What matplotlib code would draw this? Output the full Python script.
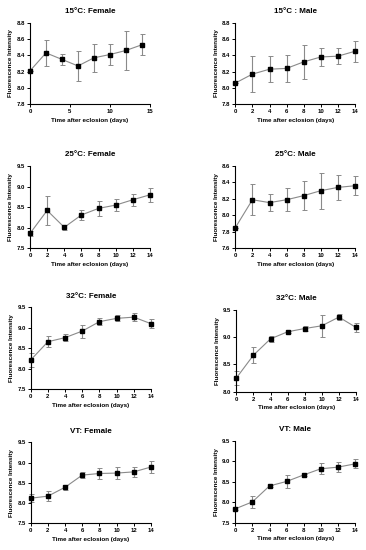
import matplotlib
matplotlib.use("Agg")
import matplotlib.pyplot as plt
import numpy as np

plt.rcParams["font.family"] = ["Liberation Sans", "DejaVu Sans"]
plt.rcParams["font.weight"] = "bold"

days = [0, 2, 4, 6, 8, 10, 12, 14]

titles = ["15°C: Female", "15°C : Male", "25°C: Female", "25°C: Male",
          "32°C: Female", "32°C: Male", "VT: Female", "VT: Male"]

f15_mean = [8.21, 8.43, 8.35, 8.27, 8.37, 8.41, 8.46, 8.53]
f15_err = [0.0, 0.16, 0.07, 0.18, 0.17, 0.13, 0.235, 0.13]
m15_mean = [8.06, 8.17, 8.23, 8.24, 8.32, 8.38, 8.39, 8.45]
m15_err = [0.0, 0.22, 0.16, 0.17, 0.21, 0.11, 0.10, 0.13]
f25_mean = [7.86, 8.42, 8.01, 8.31, 8.47, 8.55, 8.68, 8.80]
f25_err = [0.07, 0.35, 0.06, 0.13, 0.18, 0.14, 0.14, 0.17]
m25_mean = [7.85, 8.19, 8.155, 8.19, 8.24, 8.30, 8.34, 8.36]
m25_err = [0.0, 0.19, 0.10, 0.14, 0.18, 0.22, 0.15, 0.115]
f32_mean = [8.215, 8.66, 8.76, 8.92, 9.15, 9.23, 9.26, 9.10]
f32_err = [0.17, 0.14, 0.08, 0.16, 0.09, 0.07, 0.09, 0.11]
m32_mean = [8.25, 8.67, 8.97, 9.10, 9.16, 9.21, 9.37, 9.18]
m32_err = [0.13, 0.145, 0.055, 0.02, 0.04, 0.205, 0.05, 0.075]
fvt_mean = [8.12, 8.17, 8.39, 8.69, 8.73, 8.74, 8.77, 8.89]
fvt_err = [0.10, 0.13, 0.06, 0.07, 0.13, 0.14, 0.12, 0.14]
mvt_mean = [7.84, 8.01, 8.40, 8.51, 8.67, 8.82, 8.86, 8.94]
mvt_err = [0.04, 0.15, 0.02, 0.15, 0.03, 0.13, 0.12, 0.11]

means = [f15_mean, m15_mean, f25_mean, m25_mean, f32_mean, m32_mean, fvt_mean, mvt_mean]
errs = [f15_err, m15_err, f25_err, m25_err, f32_err, m32_err, fvt_err, mvt_err]

ylims = [(7.8, 8.8), (7.8, 8.8), (7.5, 9.5), (7.6, 8.6),
         (7.5, 9.5), (8.0, 9.5), (7.5, 9.5), (7.5, 9.5)]
ysteps = [0.2, 0.2, 0.5, 0.2, 0.5, 0.5, 0.5, 0.5]

# axes boxes in pixels: left, top, right, bottom
boxes = [(30, 22.7, 150, 104.3), (235.3, 22.7, 355, 104.3),
         (30, 166, 150, 248.3), (235.3, 166, 355, 248.3),
         (30.7, 307.3, 151, 389.3), (236.3, 310, 356, 391.7),
         (30.7, 442.3, 151, 523.3), (235.3, 441, 355, 522.7)]

W, H = 366, 550
fig = plt.figure(figsize=(W / 100, H / 100), dpi=100)

for i in range(8):
    l, t, r, b = boxes[i]
    ax = fig.add_axes([l / W, 1 - b / H, (r - l) / W, (b - t) / H])
    eb = ax.errorbar(days, means[i], yerr=errs[i], color="#8a8a8a", lw=0.8,
                     elinewidth=0.8, capsize=1.8, capthick=0.7, zorder=1)
    for art in eb.lines[1] + eb.lines[2]:
        art.set_clip_on(False)
    eb.lines[0].set_clip_on(False)
    ax.plot(days, means[i], "s", color="black", ms=2.4, zorder=3, clip_on=False)
    lo, hi = ylims[i]
    ax.set_ylim(lo, hi)
    ax.set_yticks(np.arange(lo, hi + 1e-6, ysteps[i]))
    ax.yaxis.set_major_formatter(matplotlib.ticker.FormatStrFormatter("%.1f"))
    if i == 0:
        ax.set_xlim(0, 15)
        ax.set_xticks([0, 5, 10, 15])
    else:
        ax.set_xlim(0, 14)
        ax.set_xticks(days)
    for s in ["top", "right"]:
        ax.spines[s].set_visible(False)
    for s in ["left", "bottom"]:
        ax.spines[s].set_linewidth(0.8)
    ax.tick_params(direction="out", length=2, width=0.7, labelsize=4.3, pad=1.5)
    ax.set_title(titles[i], fontsize=5.8, fontweight="bold", pad=7)
    ax.set_xlabel("Time after eclosion (days)", fontsize=4.5, fontweight="bold", labelpad=2.5)
    ax.set_ylabel("Fluorescence Intensity", fontsize=4.5, fontweight="bold", labelpad=2.5)

fig.savefig("out.png", dpi=100, facecolor="white")
